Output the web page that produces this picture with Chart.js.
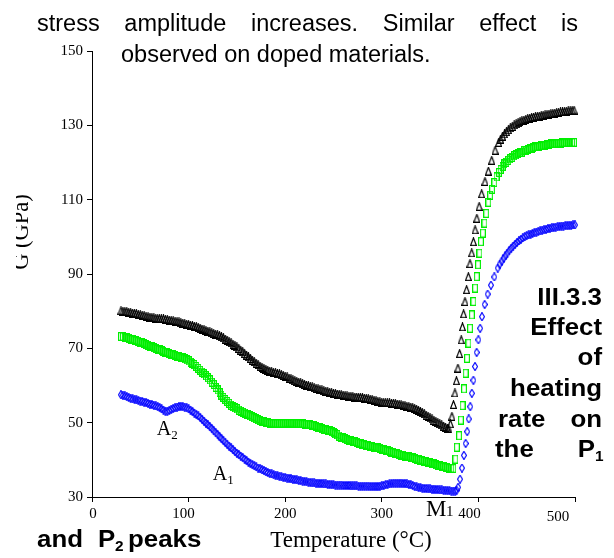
<!DOCTYPE html>
<html lang="en">
<head>
<meta charset="UTF-8">
<title>G vs Temperature</title>
<script src="https://cdn.jsdelivr.net/npm/chart.js"></script>
<style>
  body { margin: 0; background: #fff; }
  canvas { display: block; }
</style>
</head>
<body>
<canvas id="gChart" width="614" height="558"></canvas>
<script>
// shear modulus G (GPa) against temperature (°C), three heating runs: [T, G]
const runBlack = [
  [30,80.1],[32,80.0],[34,79.9],[36,79.9],[38,79.7],[40,79.6],[42,79.5],[44,79.4],[46,79.3],[48,79.1],
  [50,79.0],[52,78.9],[54,78.8],[56,78.6],[58,78.5],[60,78.4],[62,78.3],[64,78.2],[66,78.1],[68,78.0],
  [70,78.0],[72,77.9],[74,77.9],[76,77.8],[78,77.7],[80,77.6],[82,77.5],[84,77.4],[86,77.3],[88,77.2],
  [90,77.1],[92,76.9],[94,76.8],[96,76.6],[98,76.5],[100,76.4],[102,76.2],[104,76.1],[106,75.9],[108,75.8],
  [110,75.6],[112,75.4],[114,75.2],[116,75.0],[118,74.8],[120,74.6],[122,74.4],[124,74.2],[126,74.0],[128,73.8],
  [130,73.6],[132,73.4],[134,73.1],[136,72.8],[138,72.5],[140,72.2],[142,71.8],[144,71.5],[146,71.1],[148,70.8],
  [150,70.4],[152,70.0],[154,69.5],[156,69.1],[158,68.6],[160,68.2],[162,67.7],[164,67.3],[166,66.8],[168,66.4],
  [170,66.0],[172,65.6],[174,65.2],[176,64.9],[178,64.6],[180,64.3],[182,64.1],[184,63.9],[186,63.7],[188,63.5],
  [190,63.4],[192,63.2],[194,63.1],[196,62.9],[198,62.7],[200,62.5],[202,62.3],[204,62.0],[206,61.8],[208,61.5],
  [210,61.3],[212,61.1],[214,60.9],[216,60.7],[218,60.5],[220,60.3],[222,60.1],[224,59.9],[226,59.7],[228,59.6],
  [230,59.4],[232,59.2],[234,59.1],[236,58.9],[238,58.8],[240,58.6],[242,58.5],[244,58.3],[246,58.2],[248,58.0],
  [250,57.9],[252,57.8],[254,57.7],[256,57.6],[258,57.5],[260,57.4],[262,57.3],[264,57.2],[266,57.1],[268,57.1],
  [270,57.0],[272,56.9],[274,56.9],[276,56.8],[278,56.8],[280,56.7],[282,56.6],[284,56.5],[286,56.4],[288,56.3],
  [290,56.2],[292,56.0],[294,55.9],[296,55.7],[298,55.6],[300,55.5],[302,55.4],[304,55.4],[306,55.3],[308,55.3],
  [310,55.2],[312,55.2],[314,55.1],[316,55.0],[318,54.9],[320,54.8],[322,54.7],[324,54.6],[326,54.4],[328,54.3],
  [330,54.2],[332,54.0],[334,53.8],[336,53.6],[338,53.3],[340,53.0],[342,52.7],[344,52.4],[346,52.0],[348,51.7],
  [350,51.3],[352,51.0],[354,50.6],[356,50.3],[358,50.0],[360,49.7],[362,49.4],[364,49.1],[366,48.8],[368,48.5],
  [369.5,48.3],
  [371,49.7],[372.6,51.7],[374.2,54.9],[375.7,58.0],[377.2,61.3],[378.8,64.7],[380.5,68.6],[382.2,72.3],[383.5,75.8],[384.7,79.3],
  [386.1,82.6],[387.8,85.8],[389.6,89.3],[391.3,92.8],[393.1,95.7],[394.8,98.7],[396.6,101.9],[398.4,105.0],[400.8,108.2],[403.4,111.6],
  [406.8,114.9],[410.3,117.7],[413.8,120.6],[417.3,123.3],[421,125.4],[423,126.3],[425,127.1],[427,127.7],[429,128.3],[431,128.8],
  [433,129.3],[435,129.7],[437,130.1],[439,130.4],[441,130.7],[443,131.0],[445,131.2],[447,131.4],[449,131.6],[451,131.8],
  [453,131.9],[455,132.1],[457,132.2],[459,132.3],[461,132.4],[463,132.5],[465,132.6],[467,132.7],[469,132.8],[471,132.9],
  [473,133.0],[475,133.1],[477,133.2],[479,133.3],[481,133.4],[483,133.5],[485,133.6],[487,133.6],[489,133.7],[491,133.8],
  [493,133.9],[495,133.9],[497,134.0],[499,134.1]
];
const runGreen = [
  [30,73.2],[32,73.1],[34,73.0],[36,72.8],[38,72.7],[40,72.5],[42,72.4],[44,72.2],[46,72.0],[48,71.9],
  [50,71.7],[52,71.5],[54,71.3],[56,71.0],[58,70.8],[60,70.6],[62,70.4],[64,70.2],[66,70.0],[68,69.8],
  [70,69.6],[72,69.4],[74,69.2],[76,69.0],[78,68.8],[80,68.6],[82,68.4],[84,68.3],[86,68.1],[88,67.9],
  [90,67.8],[92,67.6],[94,67.4],[96,67.2],[98,66.9],[100,66.6],[102,66.3],[104,66.0],[106,65.6],[108,65.1],
  [110,64.6],[112,64.1],[114,63.6],[116,63.1],[118,62.6],[120,62.1],[122,61.5],[124,60.9],[126,60.3],[128,59.5],
  [130,58.8],[132,58.1],[134,57.4],[136,56.8],[138,56.2],[140,55.7],[142,55.2],[144,54.7],[146,54.3],[148,54.0],
  [150,53.7],[152,53.4],[154,53.1],[156,52.8],[158,52.6],[160,52.3],[162,52.1],[164,51.8],[166,51.6],[168,51.3],
  [170,51.1],[172,50.8],[174,50.6],[176,50.4],[178,50.3],[180,50.1],[182,50.0],[184,49.9],[186,49.9],[188,49.8],
  [190,49.8],[192,49.8],[194,49.8],[196,49.8],[198,49.8],[200,49.9],[202,49.9],[204,49.9],[206,49.9],[208,49.8],
  [210,49.8],[212,49.8],[214,49.8],[216,49.7],[218,49.7],[220,49.6],[222,49.6],[224,49.5],[226,49.4],[228,49.3],
  [230,49.2],[232,49.0],[234,48.8],[236,48.6],[238,48.4],[240,48.2],[242,48.1],[244,47.9],[246,47.8],[248,47.6],
  [250,47.3],[252,47.0],[254,46.7],[256,46.4],[258,46.1],[260,45.9],[262,45.7],[264,45.5],[266,45.3],[268,45.1],
  [270,45.0],[272,44.8],[274,44.7],[276,44.5],[278,44.4],[280,44.2],[282,44.1],[284,43.9],[286,43.8],[288,43.7],
  [290,43.6],[292,43.4],[294,43.3],[296,43.2],[298,43.1],[300,42.9],[302,42.8],[304,42.6],[306,42.4],[308,42.3],
  [310,42.1],[312,42.0],[314,41.8],[316,41.6],[318,41.5],[320,41.3],[322,41.2],[324,41.0],[326,40.9],[328,40.8],
  [330,40.7],[332,40.5],[334,40.4],[336,40.2],[338,40.1],[340,39.9],[342,39.8],[344,39.6],[346,39.5],[348,39.3],
  [350,39.2],[352,39.0],[354,38.9],[356,38.7],[358,38.6],[360,38.4],[362,38.3],[364,38.1],[366,38.0],[368,37.9],
  [370,37.8],[372,37.7],[374,37.7],
  [376.2,40.2],[377.7,43.4],[380,46.5],[381.8,50.7],[383.6,54.6],[385.1,59.1],[386.8,63.3],[388.2,67.3],[389.7,71.4],[391.4,75.4],
  [393.2,79.0],[394.8,82.6],[396.6,86.2],[398.3,89.3],[399.6,92.5],[401.1,95.6],[402.6,98.7],[404.6,101.0],[406.3,103.7],[408.1,106.3],
  [410.3,109.3],[412.2,111.2],[414.2,112.8],[416.5,114.6],[418.8,116.1],[421.2,117.3],[423,118.1],[425,118.9],[427,119.6],[429,120.1],
  [431,120.6],[433,121.0],[435,121.4],[437,121.8],[439,122.1],[441,122.4],[443,122.6],[445,122.8],[447,123.1],[449,123.3],
  [451,123.5],[453,123.7],[455,123.9],[457,124.0],[459,124.2],[461,124.3],[463,124.4],[465,124.5],[467,124.6],[469,124.7],
  [471,124.8],[473,124.9],[475,125.0],[477,125.0],[479,125.1],[481,125.1],[483,125.2],[485,125.2],[487,125.3],[489,125.3],
  [491,125.3],[493,125.3],[495,125.4],[497,125.4],[499,125.4]
];
const runBlue = [
  [30,57.5],[32,57.4],[34,57.2],[36,57.0],[38,56.8],[40,56.6],[42,56.4],[44,56.3],[46,56.1],[48,56.0],
  [50,55.8],[52,55.7],[54,55.5],[56,55.4],[58,55.2],[60,55.0],[62,54.9],[64,54.7],[66,54.5],[68,54.3],
  [70,54.1],[72,53.7],[74,53.4],[76,53.1],[78,53.1],[80,53.3],[82,53.6],[84,53.8],[86,54.0],[88,54.2],
  [90,54.3],[92,54.4],[94,54.3],[96,54.2],[98,54.0],[100,53.7],[102,53.4],[104,53.0],[106,52.6],[108,52.2],
  [110,51.8],[112,51.4],[114,50.9],[116,50.4],[118,49.9],[120,49.4],[122,48.9],[124,48.4],[126,47.8],[128,47.3],
  [130,46.8],[132,46.2],[134,45.7],[136,45.2],[138,44.7],[140,44.2],[142,43.7],[144,43.2],[146,42.7],[148,42.2],
  [150,41.8],[152,41.4],[154,41.0],[156,40.6],[158,40.2],[160,39.8],[162,39.4],[164,39.0],[166,38.7],[168,38.4],
  [170,38.1],[172,37.8],[174,37.6],[176,37.3],[178,37.1],[180,36.8],[182,36.6],[184,36.4],[186,36.2],[188,36.0],
  [190,35.9],[192,35.7],[194,35.6],[196,35.4],[198,35.3],[200,35.2],[202,35.1],[204,35.0],[206,34.9],[208,34.8],
  [210,34.7],[212,34.6],[214,34.5],[216,34.4],[218,34.3],[220,34.2],[222,34.1],[224,34.0],[226,33.9],[228,33.8],
  [230,33.8],[232,33.7],[234,33.7],[236,33.6],[238,33.6],[240,33.5],[242,33.5],[244,33.4],[246,33.4],[248,33.3],
  [250,33.3],[252,33.2],[254,33.2],[256,33.2],[258,33.2],[260,33.1],[262,33.1],[264,33.1],[266,33.1],[268,33.0],
  [270,33.0],[272,33.0],[274,33.0],[276,32.9],[278,32.9],[280,32.9],[282,32.9],[284,32.9],[286,32.9],[288,32.8],
  [290,32.8],[292,32.8],[294,32.8],[296,32.8],[298,32.9],[300,33.0],[302,33.1],[304,33.3],[306,33.4],[308,33.5],
  [310,33.6],[312,33.7],[314,33.7],[316,33.7],[318,33.7],[320,33.7],[322,33.6],[324,33.6],[326,33.5],[328,33.4],
  [330,33.3],[332,33.1],[334,32.9],[336,32.7],[338,32.6],[340,32.5],[342,32.4],[344,32.3],[346,32.3],[348,32.2],
  [350,32.2],[352,32.1],[354,32.1],[356,32.0],[358,32.0],[360,31.9],[362,31.9],[364,31.8],[366,31.8],[368,31.7],
  [370,31.7],[372,31.6],[374,31.6],[376,31.6],[377.5,31.8],
  [379,32.6],[381,34.8],[383,37.8],[385,41.2],[386.8,44.4],[388.4,47.6],[390,51.0],[391.6,54.3],[393.2,57.9],[394.8,61.4],
  [396.5,65.1],[398.2,68.9],[400,72.3],[401.8,75.4],[403.7,78.5],[406.5,81.8],[409.6,84.6],[413,87.0],[416.5,89.2],[420,91.6],
  [422,92.6],[424,93.4],[426,94.2],[428,94.9],[430,95.6],[432,96.3],[434,96.9],[436,97.5],[438,98.0],[440,98.5],
  [442,98.9],[444,99.3],[446,99.7],[448,100.0],[450,100.3],[452,100.5],[454,100.7],[456,100.9],[458,101.1],[460,101.3],
  [462,101.5],[464,101.6],[466,101.8],[468,101.9],[470,102.0],[472,102.2],[474,102.3],[476,102.4],[478,102.5],[480,102.6],
  [482,102.7],[484,102.8],[486,102.9],[488,102.9],[490,103.0],[492,103.0],[494,103.1],[496,103.1],[498,103.2],[500,103.2]
];

const xTicks = [0, 100, 200, 300, 400, 500];
const yTicks = [30, 50, 70, 90, 110, 130, 150];
// hand-placed x labels: shift from the tick, px
const xLabelShift = [1, -5, 0, 0, -9, -17];

// peak labels: [letter, index, T, G]
const peakNotes = [
  ['A', '2', 67, 46.6],
  ['A', '1', 125, 34.6]
];

const serif = '"Liberation Serif", "Times New Roman", serif';
const sans = '"Liberation Sans", Arial, sans-serif';
const WIDE = 1.1; // heading type is set slightly wide

// hollow markers, a little taller than wide
function marker(w, h, color, path) {
  const c = document.createElement('canvas');
  c.width = w; c.height = h;
  const g = c.getContext('2d');
  g.strokeStyle = color;
  g.lineWidth = 1.2;
  g.beginPath();
  path(g, w, h);
  g.closePath();
  g.stroke();
  return c;
}
const triangle = marker(7, 9, '#000', (g, w, h) => {
  g.moveTo(w / 2, 0.8); g.lineTo(w - 0.6, h - 0.6); g.lineTo(0.6, h - 0.6);
});
const square = marker(6, 9, '#00ee00', (g, w, h) => {
  g.rect(0.6, 0.6, w - 1.2, h - 1.2);
});
const diamond = marker(6, 9, '#0000ff', (g, w, h) => {
  g.moveTo(w / 2, 0.5); g.lineTo(w - 0.5, h / 2); g.lineTo(w / 2, h - 0.5); g.lineTo(0.5, h / 2);
});

const toXY = pts => pts.map(([x, y]) => ({ x, y }));

function wideText(ctx, str, x, y, align) {
  ctx.save();
  ctx.translate(x, y);
  ctx.scale(WIDE, 1);
  ctx.textAlign = align || 'left';
  ctx.fillText(str, 0, 0);
  ctx.restore();
}
function justified(ctx, words, left, right, y) {
  const widths = words.map(w => ctx.measureText(w).width);
  const gap = (right - left - widths.reduce((s, w) => s + w, 0)) / (words.length - 1);
  let x = left;
  ctx.textAlign = 'left';
  words.forEach((w, i) => { ctx.fillText(w, x, y); x += widths[i] + gap; });
}

const pageText = {
  id: 'pageText',
  afterDraw(chart) {
    const ctx = chart.ctx;
    const xs = chart.scales.x, ys = chart.scales.y;
    ctx.save();
    ctx.fillStyle = '#000';
    ctx.textBaseline = 'alphabetic';

    // surrounding paragraph
    ctx.font = '23.5px ' + sans;
    justified(ctx, ['stress', 'amplitude', 'increases.', 'Similar', 'effect', 'is'], 37, 578, 31);
    ctx.fillText('observed on doped materials.', 121, 62);

    // section heading running beside the figure
    ctx.font = 'bold 23.5px ' + sans;
    wideText(ctx, 'III.3.3', 602, 305, 'right');
    wideText(ctx, 'Effect', 602, 335, 'right');
    wideText(ctx, 'of', 602, 365, 'right');
    wideText(ctx, 'heating', 602, 396, 'right');
    wideText(ctx, 'rate', 498, 427);
    wideText(ctx, 'on', 602, 427, 'right');
    wideText(ctx, 'the', 495, 457);
    wideText(ctx, 'P', 595, 457, 'right');
    wideText(ctx, 'and', 37, 547);
    wideText(ctx, 'P', 98, 547);
    wideText(ctx, 'peaks', 128, 547);
    ctx.font = 'bold 14px ' + sans;
    wideText(ctx, '1', 595, 461);
    wideText(ctx, '2', 115, 551);

    // x tick labels
    ctx.font = '15px ' + serif;
    ctx.textAlign = 'center';
    ctx.textBaseline = 'top';
    xTicks.forEach((v, i) => {
      ctx.fillText(String(v), xs.getPixelForValue(v) + xLabelShift[i], v === 500 ? 510 : 507);
    });
    ctx.textBaseline = 'alphabetic';

    // axis titles
    ctx.font = '23px ' + serif;
    ctx.fillText('Temperature (°C)', 351, 547);
    ctx.save();
    ctx.beginPath();
    ctx.rect(16, 150, 40, 200);
    ctx.clip();
    ctx.translate(28, 232);
    ctx.rotate(-Math.PI / 2);
    ctx.font = '22.5px ' + serif;
    ctx.fillText('G (GPa)', 0, 0);
    ctx.restore();

    // peak labels
    ctx.textAlign = 'left';
    peakNotes.forEach(([main, sub, t, g]) => {
      const px = xs.getPixelForValue(t), py = ys.getPixelForValue(g);
      ctx.font = '20px ' + serif;
      ctx.fillText(main, px, py);
      const w = ctx.measureText(main).width;
      ctx.font = '13px ' + serif;
      ctx.fillText(sub, px + w, py + 4);
    });
    ctx.font = '23px ' + serif;
    ctx.fillText('M', 426, 516);
    ctx.font = '15px ' + serif;
    ctx.fillText('1', 446, 516);
    ctx.restore();
  }
};

const axisLook = {
  grid: { display: true, drawOnChartArea: false, drawTicks: true, tickLength: 5, color: '#000' },
  border: { display: true, color: '#000', width: 1 }
};
const tickFont = { color: '#000', font: { family: serif, size: 15 }, padding: 4 };

new Chart(document.getElementById('gChart'), {
  type: 'scatter',
  data: {
    datasets: [
      { data: toXY(runBlack), pointStyle: triangle, pointRadius: 4, clip: false },
      { data: toXY(runGreen), pointStyle: square, pointRadius: 4, clip: false },
      { data: toXY(runBlue), pointStyle: diamond, pointRadius: 4, clip: false }
    ]
  },
  options: {
    responsive: false,
    animation: false,
    devicePixelRatio: 1,
    events: [],
    layout: { padding: { top: 51, right: 39, left: 0, bottom: 0 } },
    plugins: { legend: { display: false }, tooltip: { enabled: false } },
    scales: {
      x: {
        type: 'linear', min: 0, max: 500,
        afterBuildTicks: s => { s.ticks = xTicks.map(v => ({ value: v })); },
        afterFit: s => { s.height = 61; },
        ticks: { ...tickFont, display: false },
        ...axisLook
      },
      y: {
        type: 'linear', min: 30, max: 150,
        afterBuildTicks: s => { s.ticks = yTicks.map(v => ({ value: v })); },
        afterFit: s => { s.width = 92; },
        ticks: tickFont,
        ...axisLook
      }
    }
  },
  plugins: [pageText]
});
</script>
</body>
</html>
